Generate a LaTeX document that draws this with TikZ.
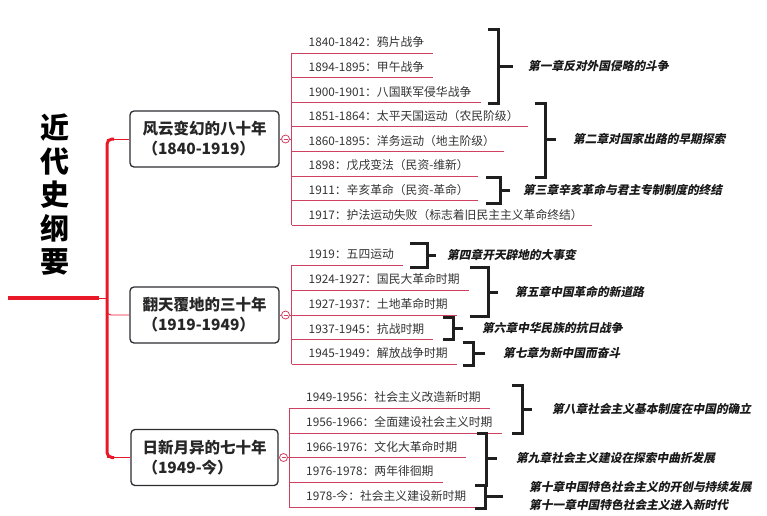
\documentclass[tikz,border=0pt]{standalone}
\usepackage{fontspec}
\setmainfont{Noto Sans CJK SC}
\newfontfamily\chapfont{Noto Sans CJK SC}[FakeSlant=0.2]
\usetikzlibrary{calc}
\definecolor{redMain}{RGB}{232,24,40}
\definecolor{redTwig}{RGB}{208,64,96}
\definecolor{inkGray}{RGB}{51,51,51}
\definecolor{boxEdge}{RGB}{45,45,50}
\colorlet{brkInk}{black!88}

\begin{document}
\begin{tikzpicture}[x=1pt,y=-1pt,
    stem/.style={line width=4.5pt,redMain},
    spine/.style={line width=3pt,redMain,rounded corners=5pt},
    bough/.style={line width=0.9pt,redMain},
    twig/.style={line width=0.9pt,redTwig},
    era/.style={draw=boxEdge,line width=1.3pt,rounded corners=4pt,fill=white,minimum width=149pt,minimum height=56pt,align=left,font=\fontsize{15.5}{20}\selectfont\bfseries,text=black!85},
    item/.style={anchor=south west,inner xsep=9pt,inner ysep=3pt,text height=9pt,text depth=3pt,font=\fontsize{11.8}{14}\selectfont,text=inkGray},
    fold/.style={circle,draw=redTwig,line width=0.8pt,fill=white,inner sep=0pt,minimum size=8pt,
      path picture={\draw[redTwig,line width=0.7pt] ([xshift=2pt]path picture bounding box.west) -- ([xshift=-2pt]path picture bounding box.east);}},
    brk/.style={line width=3pt,brkInk},
    chap/.style={anchor=west,inner sep=0pt,font=\chapfont\fontsize{11.7}{18}\selectfont\bfseries,text=black!90,align=left}
  ]
  \useasboundingbox (0,0) rectangle (767,515);

  % title and main stem
  \node[font=\fontsize{29}{33.5}\selectfont\bfseries,align=center,text=black] (title) at (55,195) {近\\代\\史\\纲\\要};
  \coordinate (root) at (8,298);
  \coordinate (rootEnd) at (99,298);
  \coordinate (s) at (107,298);
  \draw[stem] (root) -- (rootEnd);
  \draw[bough] (rootEnd) -- (s);

  % three periods
  \node[era] (e1) at (204.5,139) {风云变幻的八十年\\（1840-1919）};
  \node[era] (e2) at (204.5,315) {翻天覆地的三十年\\（1919-1949）};
  \node[era,minimum width=147pt] (e3) at (204.5,457.5) {日新月异的七十年\\（1949-今）};
  \draw[bough] (e1.west -| s) -- (e1.west);
  \draw[bough] (e3.west -| s) -- (e3.west);
  \draw[bough,rounded corners=4pt] ($(e2.west -| s)+(0,-8)$) |- (e2.west);
  \draw[spine] ($(e1.west -| s)+(7,0)$) -- (e1.west -| s) -- (e3.west -| s) -- ++(7,0);

  % 1840-1919
  \coordinate (t1) at (291.5,139);
  \node[fold] (f1) at (285.5,139) {};
  \draw[twig] (e1.east) -- (f1.west);
  \draw[twig] (f1.east) -- (t1);
  \node[item] (i11) at (299.5,53) {1840-1842：鸦片战争};
  \node[item] (i12) at (299.5,77.6) {1894-1895：甲午战争};
  \node[item] (i13) at (299.5,102.2) {1900-1901：八国联军侵华战争};
  \node[item] (i14) at (299.5,126.8) {1851-1864：太平天国运动（农民阶级）};
  \node[item] (i15) at (299.5,151.4) {1860-1895：洋务运动（地主阶级）};
  \node[item] (i16) at (299.5,176) {1898：戊戌变法（民资-维新）};
  \node[item] (i17) at (299.5,200.6) {1911：辛亥革命（民资-革命）};
  \node[item] (i18) at (299.5,225.2) {1917：护法运动失败（标志着旧民主主义革命终结）};
  \draw[twig] (i11.south west -| t1) -- (i18.south west -| t1);
  \draw[twig] (i11.south west -| t1) -- (i11.south east);
  \draw[twig] (i12.south west -| t1) -- (i12.south east);
  \draw[twig] (i13.south west -| t1) -- (i13.south east);
  \draw[twig] (i14.south west -| t1) -- (i14.south east);
  \draw[twig] (i15.south west -| t1) -- (i15.south east);
  \draw[twig] (i16.south west -| t1) -- (i16.south east);
  \draw[twig] (i17.south west -| t1) -- (i17.south east);
  \draw[twig] (i18.south west -| t1) -- (i18.south east);

  % 1919-1949
  \coordinate (t2) at (291.5,315);
  \node[fold] (f2) at (285.5,315) {};
  \draw[twig] (e2.east) -- (f2.west);
  \draw[twig] (f2.east) -- (t2);
  \node[item] (i21) at (299.5,265) {1919：五四运动};
  \node[item] (i22) at (299.5,290) {1924-1927：国民大革命时期};
  \node[item] (i23) at (299.5,315) {1927-1937：土地革命时期};
  \node[item] (i24) at (299.5,339.5) {1937-1945：抗战时期};
  \node[item] (i25) at (299.5,364) {1945-1949：解放战争时期};
  \draw[twig] (i21.south west -| t2) -- (i25.south west -| t2);
  \draw[twig] (i21.south west -| t2) -- (i21.south east);
  \draw[twig] (i22.south west -| t2) -- (i22.south east);
  \draw[twig] (i23.south west -| t2) -- (i23.south east);
  \draw[twig] (i24.south west -| t2) -- (i24.south east);
  \draw[twig] (i25.south west -| t2) -- (i25.south east);

  % 1949-
  \coordinate (t3) at (289,457.5);
  \node[fold] (f3) at (283.5,457.5) {};
  \draw[twig] (e3.east) -- (f3.west);
  \draw[twig] (f3.east) -- (t3);
  \node[item] (i31) at (297,408) {1949-1956：社会主义改造新时期};
  \node[item] (i32) at (297,433) {1956-1966：全面建设社会主义时期};
  \node[item] (i33) at (297,457.5) {1966-1976：文化大革命时期};
  \node[item] (i34) at (297,482) {1976-1978：两年徘徊期};
  \node[item] (i35) at (297,507) {1978-今：社会主义建设新时期};
  \draw[twig] (i31.south west -| t3) -- (i35.south west -| t3);
  \draw[twig] (i31.south west -| t3) -- (i31.south east);
  \draw[twig] (i32.south west -| t3) -- (i32.south east);
  \draw[twig] (i33.south west -| t3) -- (i33.south east);
  \draw[twig] (i34.south west -| t3) -- (i34.south east);
  \draw[twig] (i35.south west -| t3) -- (i35.south east);

  % chapters
  \node[chap] (c1) at (528,66) {第一章反对外国侵略的斗争};
  \node[chap] (c2) at (573,139) {第二章对国家出路的早期探索};
  \node[chap] (c3) at (523,190) {第三章辛亥革命与君主专制制度的终结};
  \node[chap] (c4) at (447,255) {第四章开天辟地的大事变};
  \node[chap] (c5) at (515,292) {第五章中国革命的新道路};
  \node[chap] (c6) at (482,328) {第六章中华民族的抗日战争};
  \node[chap] (c7) at (503,353) {第七章为新中国而奋斗};
  \node[chap] (c8) at (552,409) {第八章社会主义基本制度在中国的确立};
  \node[chap] (c9) at (516,458) {第九章社会主义建设在探索中曲折发展};
  \node[chap] (c10) at (529,496) {第十章中国特色社会主义的开创与持续发展\\第十一章中国特色社会主义进入新时代};

  % brackets
  \draw[brk] (488,29) -| (498,103) -- (488,103);
  \draw[brk] (498,66) -- ($(c1.west)+(-15,0)$);
  \draw[brk] (535,103) -| (545,177) -- (535,177);
  \draw[brk] (545,139) -- ($(c2.west)+(-17,0)$);
  \draw[brk] (486,177) -| (500,203) -- (486,203);
  \draw[brk] (500,190) -- ($(c3.west)+(-13,0)$);
  \draw[brk] (410,243) -| (427,267) -- (410,267);
  \draw[brk] (427,255) -- ($(c4.west)+(-11,0)$);
  \draw[brk] (470,267) -| (488,316) -- (470,316);
  \draw[brk] (488,292) -- ($(c5.west)+(-17,0)$);
  \draw[brk] (443,317) -| (453,339) -- (443,339);
  \draw[brk] (453,328) -- ($(c6.west)+(-19,0)$);
  \draw[brk] (463,342) -| (473,365) -- (463,365);
  \draw[brk] (473,353) -- ($(c7.west)+(-18,0)$);
  \draw[brk] (512,385) -| (522,433) -- (512,433);
  \draw[brk] (522,409) -- ($(c8.west)+(-20,0)$);
  \draw[brk] (477,433) -| (486,485) -- (477,485);
  \draw[brk] (486,458) -- ($(c9.west)+(-19,0)$);
  \draw[brk] (475,485) -| (485,508) -- (475,508);
  \draw[brk] (485,496) -- ($(c10.west)+(-26,0)$);
\end{tikzpicture}
\end{document}
